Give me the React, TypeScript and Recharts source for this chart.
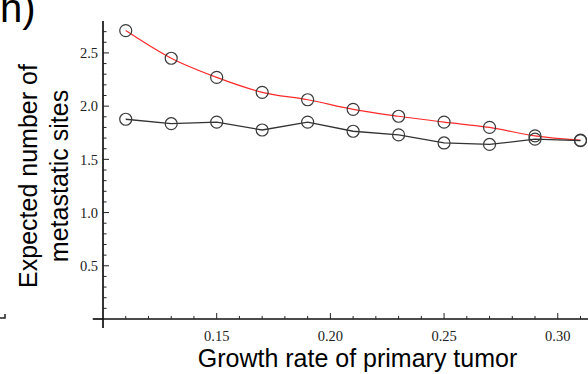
import React from 'react';
import { LineChart, Line, XAxis, YAxis, ReferenceLine } from 'recharts';

// growth rate of primary tumor
const growthRates = [0.11, 0.13, 0.15, 0.17, 0.19, 0.21, 0.23, 0.25, 0.27, 0.29, 0.31];
// red curve (smooth)
const redSites = [2.71, 2.45, 2.27, 2.13, 2.06, 1.97, 1.905, 1.85, 1.8, 1.72, 1.68];
// black (simulated) series
const blackSites = [1.877, 1.835, 1.85, 1.776, 1.85, 1.764, 1.73, 1.654, 1.64, 1.69, 1.676];

const xTicks = [
  0.11, 0.12, 0.13, 0.14, 0.15, 0.16, 0.17, 0.18, 0.19, 0.2, 0.21, 0.22, 0.23, 0.24, 0.25, 0.26,
  0.27, 0.28, 0.29, 0.3, 0.31,
];
const yTicks = [
  0.1, 0.2, 0.3, 0.4, 0.5, 0.6, 0.7, 0.8, 0.9, 1.0, 1.1, 1.2, 1.3, 1.4, 1.5, 1.6, 1.7, 1.8, 1.9, 2.0,
  2.1, 2.2, 2.3, 2.4, 2.5, 2.6, 2.7,
];

const data = growthRates.map((g, i) => ({ g, red: redSites[i], black: blackSites[i] }));

const TICK_FONT = '"Liberation Serif", "Times New Roman", serif';
const X_MARGIN = 12;
const Y_MARGIN = 5;

const XTick = (props: any) => {
  const { x, y, payload } = props;
  const v = payload.value;
  const major = Math.round(v * 100) % 5 === 0;
  const axisY = y - X_MARGIN;
  return (
    <g>
      <line x1={x} x2={x} y1={axisY} y2={axisY - (major ? 6 : 3)} stroke="#222" strokeWidth={1} />
      {major && (
        <text x={x} y={y} dy="0.71em" textAnchor="middle" fontFamily={TICK_FONT} fontSize={14.5} fill="#222">
          {v.toFixed(2)}
        </text>
      )}
    </g>
  );
};

const YTick = (props: any) => {
  const { x, y, payload } = props;
  const v = payload.value;
  const major = Math.round(v * 10) % 5 === 0;
  const axisX = x + Y_MARGIN;
  return (
    <g>
      <line x1={axisX} x2={axisX + (major ? 6 : 3.5)} y1={y} y2={y} stroke="#222" strokeWidth={1} />
      {major && (
        <text x={x} y={y} dy="0.355em" textAnchor="end" fontFamily={TICK_FONT} fontSize={14.5} fill="#222">
          {v.toFixed(1)}
        </text>
      )}
    </g>
  );
};

const dotStyle = { r: 6, stroke: '#3a3a3a', strokeWidth: 1.2, fill: 'none' };

export default function App() {
  return (
    <div style={{ position: 'absolute', left: 0, top: 0, width: 588, height: 374, background: '#fff', overflow: 'hidden' }}>
      <LineChart width={588} height={374} data={data} margin={{ top: 21, right: 0, bottom: 0, left: 63 }}>
        <XAxis
          dataKey="g"
          type="number"
          domain={[0.1, 0.3133]}
          ticks={xTicks}
          allowDataOverflow
          height={55}
          tickSize={0}
          tickMargin={X_MARGIN}
          tickLine={false}
          tick={<XTick />}
          axisLine={{ stroke: '#111', strokeWidth: 1.7 }}
          interval={0}
        />
        <YAxis
          type="number"
          domain={[0, 2.8]}
          ticks={yTicks}
          width={40}
          tickSize={0}
          tickMargin={Y_MARGIN}
          tickLine={false}
          tick={<YTick />}
          axisLine={{ stroke: '#111', strokeWidth: 1.7 }}
          interval={0}
        />
        <ReferenceLine
          segment={[{ x: 0.1, y: 0 }, { x: 0.1, y: -0.085 }]}
          ifOverflow="visible"
          stroke="#111"
          strokeWidth={1.7}
        />
        <ReferenceLine
          segment={[{ x: 0.1, y: 0 }, { x: 0.0955, y: 0 }]}
          ifOverflow="visible"
          stroke="#111"
          strokeWidth={1.7}
        />
        <Line
          dataKey="red"
          type="monotone"
          stroke="#ff2a2a"
          strokeWidth={1.2}
          dot={dotStyle}
          activeDot={false}
          isAnimationActive={false}
        />
        <Line
          dataKey="black"
          type="linear"
          stroke="#333"
          strokeWidth={1.3}
          dot={dotStyle}
          activeDot={false}
          isAnimationActive={false}
        />
      </LineChart>
      <svg
        width={588}
        height={374}
        style={{ position: 'absolute', left: 0, top: 0, pointerEvents: 'none' }}
        fontFamily='"Liberation Sans", Arial, sans-serif'
      >
        <text x={0} y={22} fontSize={40} fill="#000">
          h)
        </text>
        <text transform="translate(37,176) rotate(-90)" textAnchor="middle" fontSize={25} fill="#000">
          Expected number of
        </text>
        <text transform="translate(68,176) rotate(-90)" textAnchor="middle" fontSize={25} fill="#000">
          metastatic sites
        </text>
        <text x={357.5} y={367} textAnchor="middle" fontSize={25} fill="#000">
          Growth rate of primary tumor
        </text>
        <path d="M0 318 H5 V314" stroke="#222" strokeWidth={1.5} fill="none" />
      </svg>
    </div>
  );
}
